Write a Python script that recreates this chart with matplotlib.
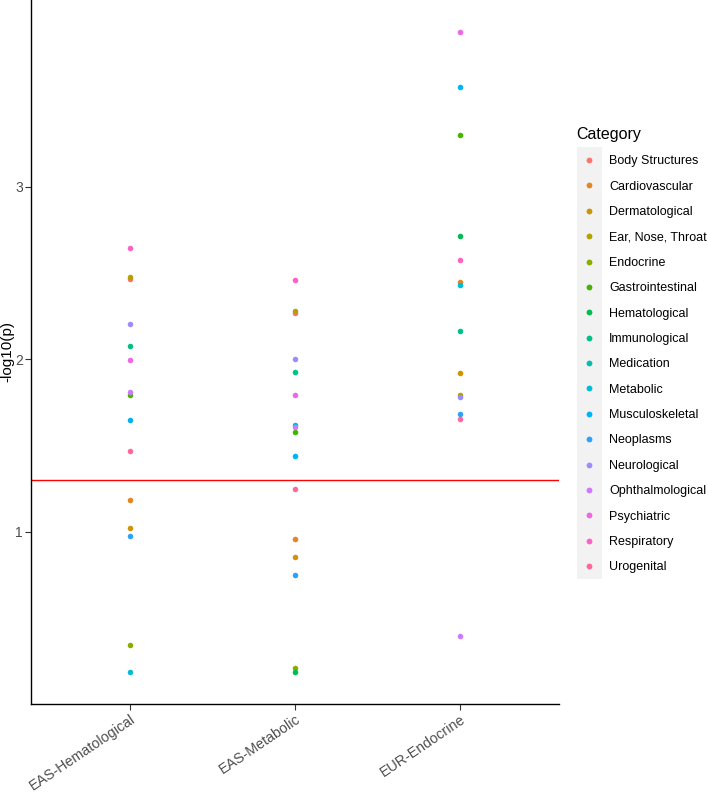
import numpy as np
import matplotlib
matplotlib.use("Agg")
import matplotlib.pyplot as plt
from matplotlib.patches import Rectangle
from matplotlib.lines import Line2D
import math

plt.rcParams['font.family'] = ['Liberation Sans', 'DejaVu Sans']

# ---------------- data ----------------
panels = ["EAS-Hematological", "EAS-Metabolic", "EUR-Endocrine"]
groups = ["Body Structures", "Cardiovascular", "Dermatological", "Ear, Nose, Throat",
          "Endocrine", "Gastrointestinal", "Hematological", "Immunological",
          "Medication", "Metabolic", "Musculoskeletal", "Neoplasms",
          "Neurological", "Ophthalmological", "Psychiatric", "Respiratory", "Urogenital"]
nan = np.nan
eas_hematological = [2.467, 1.186, 1.025, 2.480, 0.343, 1.796, nan, 2.078,
                     nan, 0.188, 1.649, 0.979, 2.206, 1.813, 1.995, 2.648, 1.466]
eas_metabolic = [2.268, 0.959, 0.853, 2.283, 0.210, 1.581, 0.190, 1.928,
                 nan, 1.620, 1.441, 0.752, 2.001, 1.607, 1.792, 2.461, 1.248]
eur_endocrine = [nan, 2.449, 1.920, 1.794, nan, 3.300, 2.714, 2.163,
                 nan, 2.432, 3.580, 1.682, 1.781, 0.399, 3.897, 2.577, 1.655]
threshold_p = 0.05
y_ticks = [1, 2, 3]
y_label = "-log10(p)"
legend_title = "Category"

# ---------------- palette (ggplot hue) ----------------
def hcl_hex(h, c=100.0, l=65.0):
    WY, Wu, Wv = 100.0, 0.1978398, 0.4683363
    hr = math.radians(h)
    U, V = c * math.cos(hr), c * math.sin(hr)
    Y = WY * ((l + 16) / 116) ** 3
    u = U / (13 * l) + Wu
    v = V / (13 * l) + Wv
    X = 9.0 * Y * u / (4 * v)
    Z = -X / 3 - 5 * Y + 3 * Y / v
    r = (3.240479 * X - 1.537150 * Y - 0.498535 * Z) / WY
    g = (-0.969256 * X + 1.875992 * Y + 0.041556 * Z) / WY
    b = (0.055648 * X - 0.204043 * Y + 1.057311 * Z) / WY
    def gam(t):
        t = 1.055 * t ** (1 / 2.4) - 0.055 if t > 0.00304 else 12.92 * t
        return min(max(t, 0.0), 1.0)
    return '#%02X%02X%02X' % tuple(int(round(gam(t) * 255)) for t in (r, g, b))

hues = np.linspace(15, 375, len(groups) + 1)[:-1]
colors = [hcl_hex(h) for h in hues]

# ---------------- figure ----------------
fig = plt.figure(figsize=(7.08, 7.92), dpi=100)
ax = fig.add_axes([31 / 708, 88 / 792, (559 - 31) / 708, (792 - 88) / 792])

series = [eas_hematological, eas_metabolic, eur_endocrine]
allv = []
for gi, g in enumerate(groups):
    xs, ys = [], []
    for pi, s in enumerate(series):
        if not np.isnan(s[gi]):
            xs.append(pi)
            ys.append(s[gi])
            allv.append(s[gi])
    ax.scatter(xs, ys, s=16, color=colors[gi], linewidths=0, zorder=3)

ax.axhline(-math.log10(threshold_p), color='#FF0000', lw=1.0, zorder=2)

vmin, vmax = min(allv), max(allv)
rng = vmax - vmin
ax.set_ylim(vmin - 0.05 * rng, vmax + 0.05 * rng)
ax.set_xlim(-0.6, len(panels) - 1 + 0.6)
ax.set_xticks(range(len(panels)))
ax.set_xticklabels(panels, rotation=34, ha='right', va='top',
                   rotation_mode='anchor', fontsize=10.3, color='#4D4D4D')
ax.set_yticks(y_ticks)
ax.set_yticklabels([str(t) for t in y_ticks], fontsize=10, color='#4D4D4D')
ax.tick_params(axis='x', length=4, width=0.8, color='#333333', pad=2)
ax.tick_params(axis='y', length=4, width=0.8, color='#333333', pad=2)
for sp in ['top', 'right']:
    ax.spines[sp].set_visible(False)
for sp in ['left', 'bottom']:
    ax.spines[sp].set_linewidth(1.0)
    ax.spines[sp].set_color('black')
ax.set_ylabel(y_label, fontsize=11)
ax.yaxis.set_label_coords(-0.031, 0.5)

# ---------------- legend ----------------
fig.patches.append(Rectangle((577 / 708, 1 - 579 / 792), 25 / 708, (579 - 147) / 792,
                             transform=fig.transFigure, facecolor='#F2F2F2',
                             edgecolor='none', zorder=0))
handles = [Line2D([], [], marker='o', linestyle='none', markersize=4.2,
                  markerfacecolor=c, markeredgewidth=0) for c in colors]
leg = fig.legend(handles, groups, title=legend_title, loc='upper left',
                 bbox_to_anchor=(571 / 708, 1 - 122 / 792), frameon=False,
                 fontsize=9, title_fontsize=11.5, labelspacing=1.07,
                 handlelength=2.0, handletextpad=0.64, borderaxespad=0)
leg._legend_box.align = "left"

fig.savefig("out.png", dpi=100)
